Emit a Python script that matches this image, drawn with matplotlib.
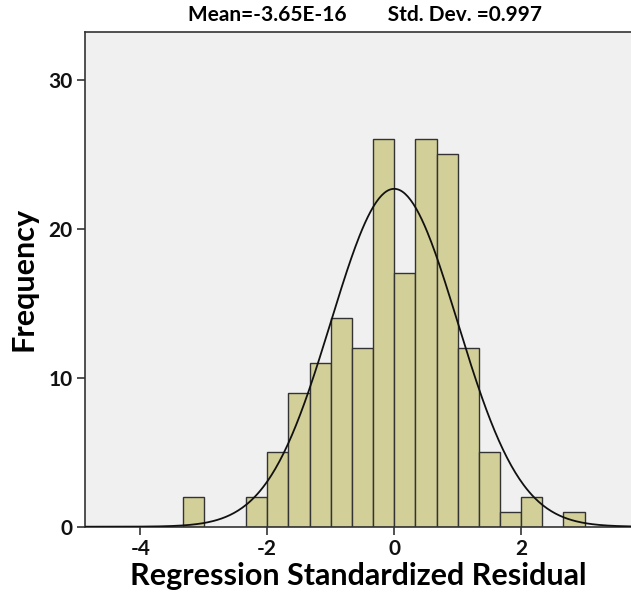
import numpy as np
import matplotlib
matplotlib.use("Agg")
import matplotlib.pyplot as plt

# Histogram data (bin edges at multiples of 1/3)
bin_starts = [-10/3, -7/3, -2.0, -5/3, -4/3, -1.0, -2/3, -1/3, 0.0, 1/3, 2/3, 1.0, 4/3, 5/3, 2.0, 8/3]
counts = [2, 2, 5, 9, 11, 14, 12, 26, 17, 26, 25, 12, 5, 1, 2, 1]
bin_width = 1/3
mean = -3.65e-16
std = 0.997
n_total = 170
x_ticks = [-4, -2, 0, 2]
y_ticks = [0, 10, 20, 30]

plt.rcParams['font.family'] = ['Lato', 'DejaVu Sans']

fig = plt.figure(figsize=(6.31, 5.94), dpi=100)
ax = fig.add_axes([85/631, 1 - 526.7/594, 1 - 85/631, (526.7 - 32)/594])
ax.set_facecolor('#F0F0F0')

ax.bar(bin_starts, counts, width=bin_width, align='edge', color='#D3CF98',
       edgecolor='#333333', linewidth=1.0, zorder=2)

xs = np.linspace(-4.87, 3.8, 400)
pdf = n_total * bin_width * np.exp(-0.5 * ((xs - mean) / std) ** 2) / (std * np.sqrt(2 * np.pi))
ax.plot(xs, pdf, color='#111111', linewidth=1.3, zorder=3)

ax.set_xlim(-4.87, 3.73)
ax.set_ylim(0, 33.2)
ax.set_xticks(x_ticks)
ax.set_xticklabels([str(t) for t in x_ticks])
ax.set_yticks(y_ticks)
ax.set_yticklabels([str(t) for t in y_ticks])

for s in ['left', 'bottom', 'top']:
    ax.spines[s].set_color('#333333')
    ax.spines[s].set_linewidth(1.2)
ax.spines['right'].set_visible(False)

ax.tick_params(axis='both', direction='out', length=6, width=1.2, color='#333333',
               labelsize=15, pad=3)
for lab in ax.get_xticklabels() + ax.get_yticklabels():
    lab.set_fontweight('bold')
    lab.set_color('#111111')

ax.set_xlabel('Regression Standardized Residual', fontsize=22, fontweight='bold', labelpad=2, color='#000000')
ax.set_ylabel('Frequency', fontsize=22, fontweight='bold', labelpad=8, color='#000000')

fig.text(365/631, 1 - 15/594, 'Mean=-3.65E-16        Std. Dev. =0.997', ha='center', va='center',
         fontsize=15, fontweight='bold', color='#000000')

fig.savefig('out.png', dpi=100)
